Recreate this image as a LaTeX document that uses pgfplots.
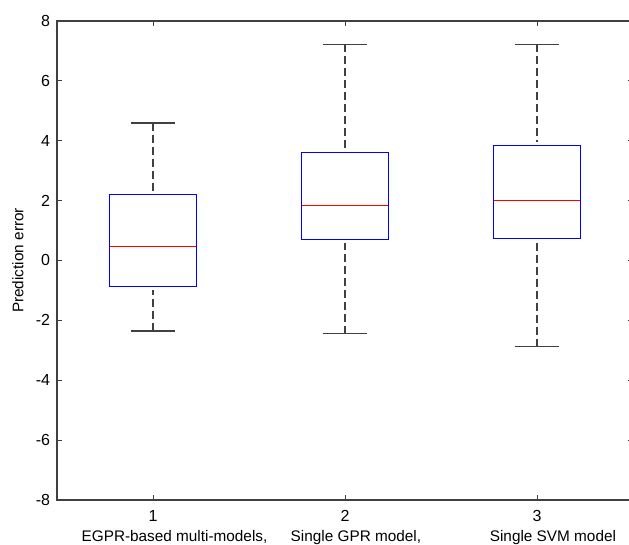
\documentclass[border=0pt]{standalone}
\usepackage{fontspec}
\setmainfont{Liberation Sans}
\usepackage{pgfplots}
\pgfplotsset{compat=1.18}
\usepgfplotslibrary{statistics}
\begin{document}
\fontsize{11.5}{13}\selectfont
\begin{tikzpicture}
\begin{axis}[
  at={(0,0)}, anchor=south west,
  scale only axis, width=432pt, height=359.25pt,
  xmin=0.5, xmax=3.5, ymin=-8, ymax=8,
  xtick={1,2,3}, xticklabels={1,2,3},
  ytick={-8,-6,-4,-2,0,2,4,6,8}, yticklabels={-8,-6,-4,-2,0,2,4,6,8},
  tick align=inside, major tick length=4pt,
  axis line style={black!75, line width=0.9pt},
  tick style={black!75, line width=0.7pt},
  xticklabel style={anchor=north, inner sep=0pt, yshift=-7.5pt, font=\fontsize{12}{14}\selectfont},
  yticklabel style={anchor=east, inner sep=0pt, xshift=-5pt, font=\fontsize{12}{14}\selectfont},
  ylabel={Prediction error},
  ylabel style={at={(axis description cs:-0.068,0.5)}, anchor=center},
  clip=false,
  boxplot/draw direction=y,
  boxplot={box extend=0.45, whisker extend=0.234},
  boxplot/every box/.style={draw=blue, line width=0.9pt},
  boxplot/every median/.style={draw=red, line width=0.9pt},
  boxplot/every whisker/.style={draw=black!75, line width=1pt},
  boxplot/draw/lower whisker/.code={%
    \draw[/pgfplots/boxplot/every whisker/.try, dash pattern=on 6pt off 3pt, shorten >=2.5pt]
      (boxplot box cs:\pgfplotsboxplotvalue{lower whisker},0.5)
      -- (boxplot box cs:\pgfplotsboxplotvalue{lower quartile},0.5);
    \draw[/pgfplots/boxplot/every whisker/.try, line width=1.1pt]
      (boxplot whisker cs:\pgfplotsboxplotvalue{lower whisker},0)
      -- (boxplot whisker cs:\pgfplotsboxplotvalue{lower whisker},1);
  },
  boxplot/draw/upper whisker/.code={%
    \draw[/pgfplots/boxplot/every whisker/.try, dash pattern=on 6pt off 3pt, shorten >=2.5pt]
      (boxplot box cs:\pgfplotsboxplotvalue{upper whisker},0.5)
      -- (boxplot box cs:\pgfplotsboxplotvalue{upper quartile},0.5);
    \draw[/pgfplots/boxplot/every whisker/.try, line width=1.1pt]
      (boxplot whisker cs:\pgfplotsboxplotvalue{upper whisker},0)
      -- (boxplot whisker cs:\pgfplotsboxplotvalue{upper whisker},1);
  },
]
\addplot[boxplot prepared={draw position=1, lower whisker=-2.35, lower quartile=-0.88, median=0.48, upper quartile=2.21, upper whisker=4.59}] coordinates {};
\addplot[boxplot prepared={draw position=2, lower whisker=-2.44, lower quartile=0.69, median=1.84, upper quartile=3.6, upper whisker=7.22}] coordinates {};
\addplot[boxplot prepared={draw position=3, lower whisker=-2.88, lower quartile=0.73, median=2.0, upper quartile=3.85, upper whisker=7.22}] coordinates {};
\node[anchor=base, yshift=-31.3pt] at (axis cs:1.112,-8) {EGPR-based multi-models,};
\node[anchor=base, yshift=-31.3pt] at (axis cs:2.057,-8) {Single GPR model,};
\node[anchor=base, yshift=-31.3pt] at (axis cs:3.083,-8) {Single SVM model};
\end{axis}
\pgfresetboundingbox
\useasboundingbox (-42.75pt,-33.75pt) rectangle (429pt,375pt);
\end{tikzpicture}
\end{document}
